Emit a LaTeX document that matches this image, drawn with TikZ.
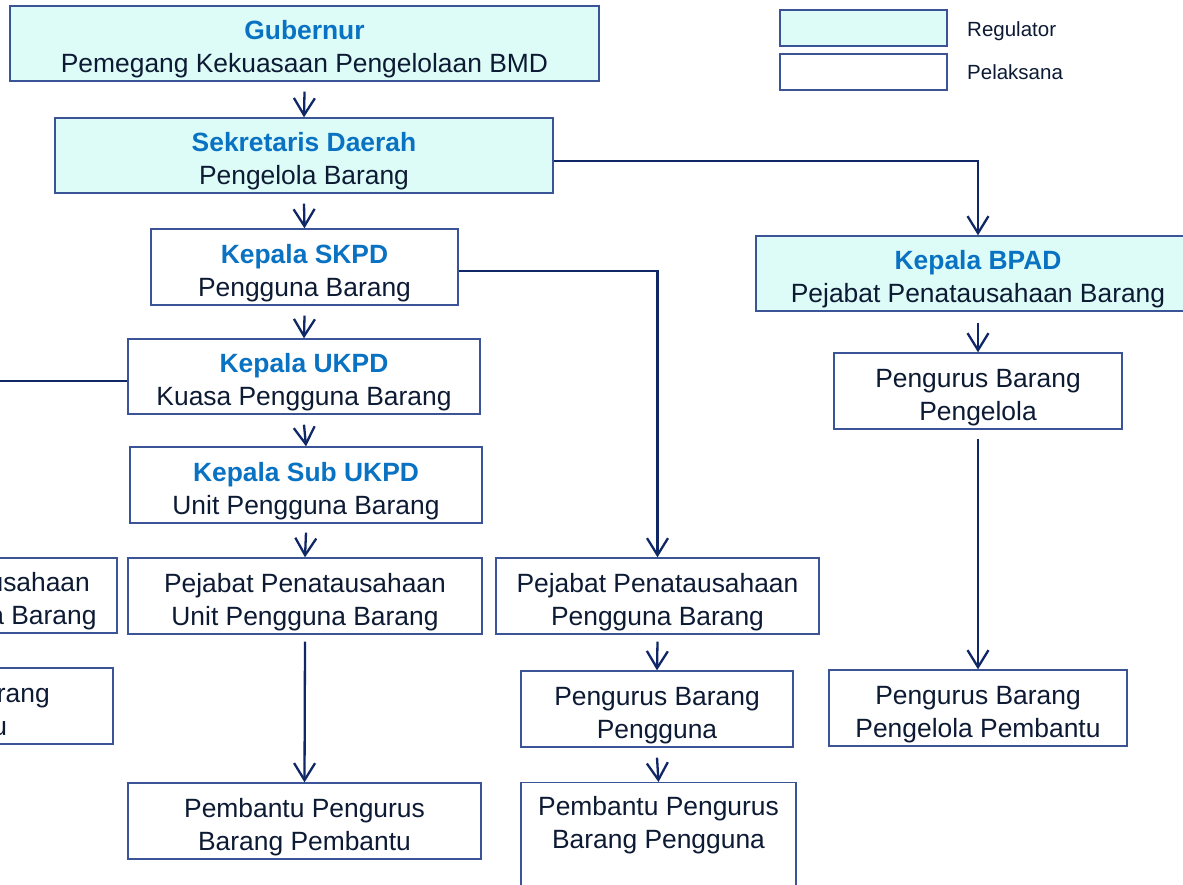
\documentclass[tikz,border=0pt]{standalone}
\usepackage{fontspec}
\setmainfont{Liberation Sans}
\usetikzlibrary{arrows.meta}
\definecolor{regfill}{HTML}{DDFCF7}
\definecolor{boxline}{HTML}{3B5497}
\definecolor{arrline}{HTML}{0F2766}
\definecolor{titleblue}{HTML}{0A72C2}
\definecolor{txt}{HTML}{0D1A33}
\tikzset{
  x=1pt, y=-1pt,
  box/.style={draw=boxline, line width=1.4pt, fill=white, inner sep=0pt,
    align=center, text=txt, font=\fontsize{26.4}{33}\selectfont,
    text height=62pt, text depth=4pt},
  reg/.style={box, fill=regfill},
  arr/.style={draw=arrline, line width=2.3pt,
    -{Straight Barb[length=17pt,width=21pt,line width=2.3pt]}},
  legtxt/.style={anchor=west, inner sep=0pt, text=txt, font=\fontsize{20.5}{24}\selectfont},
}
\newcommand{\ttlx}[1]{\textcolor{titleblue}{\textbf{#1}}}
\begin{document}
\begin{tikzpicture}
\useasboundingbox (0,0) rectangle (1183,884);
\clip (0,0) rectangle (1183,884);
\fill[white] (0,0) rectangle (1183,884);

% legend
\node[reg, minimum width=167pt, minimum height=36pt, text height=0pt, text depth=0pt] (lreg) at (863.5,28) {};
\node[box, minimum width=167pt, minimum height=36pt, text height=0pt, text depth=0pt] (lpel) at (863.5,72) {};
\node[legtxt] (lregt) at (967,31) {Regulator};
\node[legtxt] (lpelt) at (967,72) {Pelaksana};

% main column
\node[reg, minimum width=589pt, minimum height=75pt] (gub) at (304.5,43.5)
  {\ttlx{Gubernur}\\Pemegang Kekuasaan Pengelolaan BMD};
\node[reg, minimum width=498pt, minimum height=75pt] (sek) at (304,155.5)
  {\ttlx{Sekretaris Daerah}\\Pengelola Barang};
\node[box, minimum width=307pt, minimum height=76pt] (skpd) at (304.5,267)
  {\ttlx{Kepala SKPD}\\Pengguna Barang};
\node[box, minimum width=352pt, minimum height=75pt] (ukpd) at (304,376.5)
  {\ttlx{Kepala UKPD}\\Kuasa Pengguna Barang};
\node[box, minimum width=352pt, minimum height=76pt] (sub) at (306,485)
  {\ttlx{Kepala Sub UKPD}\\Unit Pengguna Barang};
\node[box, minimum width=354pt, minimum height=76pt] (pupb) at (305,596)
  {Pejabat Penatausahaan\\Unit Pengguna Barang};
\node[box, minimum width=353pt, minimum height=76pt] (ppbpb) at (304.5,821)
  {Pembantu Pengurus\\Barang Pembantu};

% left (partly outside)
\node[box, minimum width=336pt, minimum height=75pt] (left1) at (-51,595.5)
  {Pejabat Penatausahaan\\Kuasa Pengguna Barang};
\node[box, minimum width=332pt, minimum height=76pt] (left2) at (-53,706)
  {Pengurus Barang\\Pembantu};

% middle column
\node[box, minimum width=323pt, minimum height=76pt] (ppub) at (657.5,596)
  {Pejabat Penatausahaan\\Pengguna Barang};
\node[box, minimum width=272pt, minimum height=76pt] (pbpg) at (657,709)
  {Pengurus Barang\\Pengguna};
\node[box, minimum width=275pt, anchor=north, inner ysep=0pt, text height=66pt, text depth=50pt] (ppbpg) at (658.5,782)
  {Pembantu Pengurus\\Barang Pengguna};

% right column
\node[reg, minimum width=444pt, minimum height=75pt] (bpad) at (978,273.5)
  {\ttlx{Kepala BPAD}\\Pejabat Penatausahaan Barang};
\node[box, minimum width=288pt, minimum height=76pt] (pbp) at (978,391)
  {Pengurus Barang\\Pengelola};
\node[box, minimum width=298pt, minimum height=76pt] (pbpp) at (978,708)
  {Pengurus Barang\\Pengelola Pembantu};

% connectors
\draw[arr] ([yshift=-10pt]gub.south) -- (sek.north);
\draw[arr] ([yshift=-10pt]sek.south) -- (skpd.north);
\draw[arr] ([yshift=-10pt]skpd.south) -- (ukpd.north);
\draw[arr] ([yshift=-10pt]ukpd.south) -- (sub.north);
\draw[arr] ([yshift=-9pt]sub.south) -- (pupb.north);
\draw[arr] ([yshift=-7pt]pupb.south) -- (ppbpb.north);

\draw[arr] ([yshift=-5.5pt]sek.east) -| (bpad.north);
\draw[arr] ([yshift=-4pt]skpd.east) -| (ppub.north);
\coordinate (lj) at (-51,381);
\draw[arr] ([yshift=-4.5pt]ukpd.west) -- (lj) -- (left1.north);
\draw[arr] ([yshift=-9pt]left1.south) -- (left2.north);

\draw[arr] ([yshift=-11pt]bpad.south) -- (pbp.north);
\draw[arr] ([yshift=-9pt]pbp.south) -- (pbpp.north);
\draw[arr] ([yshift=-7pt]ppub.south) -- (pbpg.north);
\draw[arr] ([yshift=-10pt]pbpg.south) -- (ppbpg.north);
\end{tikzpicture}
\end{document}
